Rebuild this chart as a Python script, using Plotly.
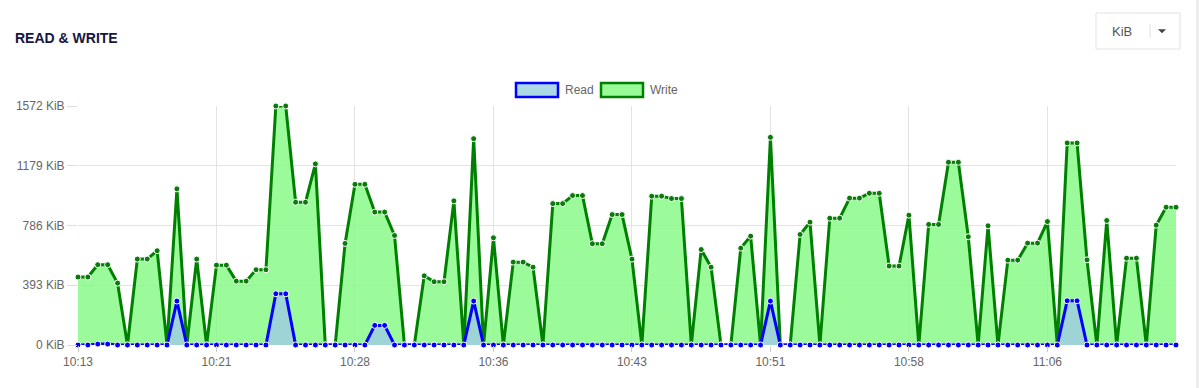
import plotly.graph_objects as go

# ---------------- data ----------------
TICK_LABELS = ["10:13", "10:21", "10:28", "10:36", "10:43", "10:51", "10:58", "11:06"]
POINTS_PER_TICK = 14
Y_TICKS = [0, 393, 786, 1179, 1572]
UNIT = "KiB"

WRITE_KIB = [
    447, 447, 528, 528, 407, 0, 565, 565, 620, 0,
    1027, 0, 565, 0, 525, 525, 420, 420, 495, 495,
    1572, 1572, 939, 939, 1191, 0, 0, 668, 1057, 1057,
    874, 874, 720, 0, 0, 455, 416, 416, 948, 0,
    1357, 0, 705, 0, 545, 545, 512, 0, 930, 930,
    983, 983, 666, 666, 858, 858, 565, 0, 979, 979,
    963, 963, 0, 628, 512, 0, 0, 637, 716, 0,
    1366, 0, 0, 727, 808, 0, 834, 834, 966, 966,
    998, 998, 519, 519, 854, 0, 793, 793, 1202, 1202,
    712, 0, 784, 0, 558, 558, 670, 670, 812, 0,
    1329, 1329, 560, 0, 819, 0, 571, 571, 0, 788,
    906, 906,
]

READ_KIB = [
    0, 0, 6, 6, 0, 0, 0, 0, 0, 0,
    289, 0, 0, 0, 0, 0, 0, 0, 0, 0,
    337, 337, 0, 0, 0, 0, 0, 0, 0, 0,
    129, 129, 0, 0, 0, 0, 0, 0, 0, 0,
    289, 0, 0, 0, 0, 0, 0, 0, 0, 0,
    0, 0, 0, 0, 0, 0, 0, 0, 0, 0,
    0, 0, 0, 0, 0, 0, 0, 0, 0, 0,
    289, 0, 0, 0, 0, 0, 0, 0, 0, 0,
    0, 0, 0, 0, 0, 0, 0, 0, 0, 0,
    0, 0, 0, 0, 0, 0, 0, 0, 0, 0,
    291, 291, 0, 0, 0, 0, 0, 0, 0, 0,
    0, 0,
]

x_idx = list(range(len(WRITE_KIB)))

# ---------------- layout geometry ----------------
W, H = 1199, 388
L, R, T, B = 78, 23, 106, 43
PW, PH = W - L - R, H - T - B


def px(x):
    return (x - L) / PW


def py(y):
    return (H - B - y) / PH


FONT = "Liberation Sans, Arial, sans-serif"
GRID = "#e3e3e3"

fig = go.Figure()

fig.add_trace(go.Scatter(
    x=x_idx, y=WRITE_KIB, name="Write", mode="lines+markers",
    fill="tozeroy", fillcolor="rgba(130,250,130,0.8)",
    line=dict(color="#008000", width=3),
    marker=dict(color="#0a7a0a", size=6, line=dict(color="white", width=1)),
    showlegend=False, cliponaxis=False,
))
fig.add_trace(go.Scatter(
    x=x_idx, y=READ_KIB, name="Read", mode="lines+markers",
    fill="tozeroy", fillcolor="rgba(160,205,225,0.85)",
    line=dict(color="#0000ff", width=3),
    marker=dict(color="#0000ff", size=6, line=dict(color="white", width=1)),
    showlegend=False, cliponaxis=False,
))

tickvals = [i * POINTS_PER_TICK for i in range(len(TICK_LABELS))]

fig.update_layout(
    width=W, height=H,
    margin=dict(l=L, r=R, t=T, b=B, pad=0),
    paper_bgcolor="white", plot_bgcolor="white",
    font=dict(family=FONT, size=12, color="#666666"),
    showlegend=False,
    xaxis=dict(
        range=[0, len(WRITE_KIB) - 1], tickvals=tickvals, ticktext=TICK_LABELS,
        showgrid=True, gridcolor=GRID, gridwidth=1, zeroline=False,
        ticks="outside", ticklen=6, tickcolor="#cccccc",
        showline=False, tickfont=dict(size=12, color="#666666"),
    ),
    yaxis=dict(
        range=[0, Y_TICKS[-1]], tickvals=Y_TICKS,
        ticktext=[f"{v} {UNIT}" for v in Y_TICKS],
        showgrid=True, gridcolor=GRID, gridwidth=1, zeroline=False,
        ticks="outside", ticklen=10, tickcolor="#dddddd",
        showline=False, tickfont=dict(size=12, color="#666666"),
    ),
)

shapes = []
annotations = []

# Title
annotations.append(dict(
    text="<b>READ &amp; WRITE</b>", xref="paper", yref="paper",
    x=px(13), y=py(38), xanchor="left", yanchor="middle", showarrow=False,
    font=dict(family=FONT, size=14, color="#16163f"),
))

# Legend (boxes + labels)
legend_items = [("Read", "#add8e6", "#0000ff", 516), ("Write", "#98fb98", "#008000", 601)]
for name, fillc, linec, x0 in legend_items:
    shapes.append(dict(
        type="rect", xref="paper", yref="paper",
        x0=px(x0), x1=px(x0 + 42), y0=py(97), y1=py(83),
        fillcolor=fillc, line=dict(color=linec, width=2.5), layer="above",
    ))
    annotations.append(dict(
        text=name, xref="paper", yref="paper", x=px(x0 + 47), y=py(89.5),
        xanchor="left", yanchor="middle", showarrow=False,
        font=dict(family=FONT, size=12, color="#666666"),
    ))

# Unit dropdown
shapes.append(dict(
    type="rect", xref="paper", yref="paper",
    x0=px(1096), x1=px(1180), y0=py(49), y1=py(13),
    fillcolor="white", line=dict(color="#e2e2e2", width=1),
))
shapes.append(dict(
    type="line", xref="paper", yref="paper",
    x0=px(1150), x1=px(1150), y0=py(38), y1=py(24),
    line=dict(color="#e0e0e0", width=1),
))
caret = "M {} {} L {} {} L {} {} Z".format(px(1158.5), py(29.5), px(1165.5), py(29.5), px(1162), py(33))
shapes.append(dict(type="path", xref="paper", yref="paper", path=caret,
                   fillcolor="#444444", line=dict(color="#444444", width=0.5)))
annotations.append(dict(
    text="KiB", xref="paper", yref="paper", x=px(1122), y=py(31),
    xanchor="center", yanchor="middle", showarrow=False,
    font=dict(family=FONT, size=13, color="#555555"),
))

# right page border strip
shapes.append(dict(
    type="rect", xref="paper", yref="paper",
    x0=px(1196), x1=px(1199), y0=py(388), y1=py(0),
    fillcolor="#ececf0", line=dict(width=0),
))

fig.update_layout(shapes=shapes, annotations=annotations)

fig.write_html(
    "out.html",
    config={"displayModeBar": False},
    post_script="document.body.style.margin='0';document.body.style.overflow='hidden';",
)
